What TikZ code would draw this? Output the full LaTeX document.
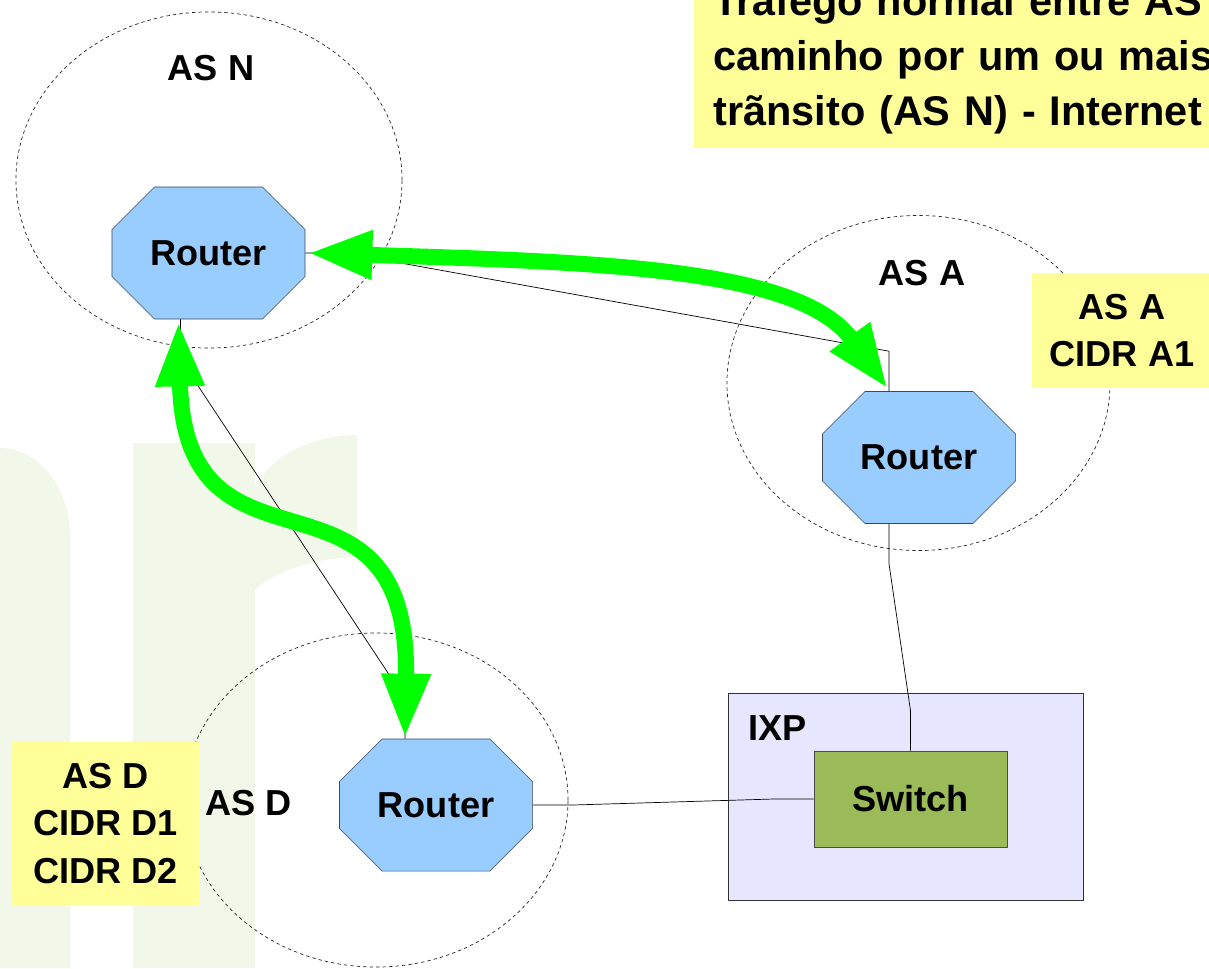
\documentclass[tikz,border=0pt]{standalone}
\usepackage{fontspec}
\setmainfont{Liberation Sans}
\usepackage{tikz}
\usetikzlibrary{positioning}
\usetikzlibrary{shapes,arrows.meta,calc}
\definecolor{routerblue}{HTML}{99CCFF}
\definecolor{routerline}{HTML}{3C4A58}
\definecolor{notecolor}{HTML}{FFFF99}
\definecolor{ixpcolor}{HTML}{E6E6FF}
\definecolor{switchcolor}{HTML}{9BBB59}
\definecolor{flowgreen}{HTML}{00FF00}
\definecolor{logogreen}{HTML}{F1F7E9}
\newcommand{\labelfont}{\fontsize{25.7}{33.7}\selectfont\bfseries}
\newcommand{\titlefont}{\fontsize{29.5}{39}\selectfont\bfseries}
\tikzstyle{router} = [chamfered rectangle, chamfered rectangle xsep=0.75cm, chamfered rectangle ysep=0.75cm,
    draw=routerline, fill=routerblue, minimum width=4.825cm, minimum height=3.3cm, inner sep=0pt, font=\labelfont]
\tikzstyle{zone} = [ellipse, draw=black!85, dash pattern=on 2.4pt off 2.2pt, line width=0.5pt]
\tikzstyle{note} = [rectangle, fill=notecolor, align=center, inner sep=0pt, font=\labelfont]
\tikzstyle{aslabel} = [font=\labelfont]
\tikzstyle{link} = [draw=black, line width=0.5pt]
\tikzstyle{flow} = [draw=flowgreen, line width=0.4cm,
    {Triangle[length=1.625cm,width=1.125cm]}-{Triangle[length=1.625cm,width=1.125cm]}]

\begin{document}
\begin{tikzpicture}[x=0.025cm, y=-0.025cm]
\useasboundingbox (0,0) rectangle (1209,968);
\clip (0,0) rectangle (1209,968);

\fill [logogreen] (0,968) -- (0,448) .. controls (40,448) and (70,490) .. (70,535) -- (70,968) -- cycle;
\fill [logogreen] (133,443) rectangle (255,968);
\fill [logogreen] (255,487) .. controls (275,450) and (320,435) .. (357,435) -- (357,557)
    .. controls (320,557) and (275,570) .. (255,590) -- cycle;

\node (zoneN) [zone, minimum width=9.65cm, minimum height=8.4cm] at (209,180) {};
\node (zoneA) [zone, minimum width=9.575cm, minimum height=8.375cm] at (918.5,383) {};
\node (zoneD) [zone, minimum width=9.6cm, minimum height=8.35cm] at (376,800) {};

\node (topnote) [note, anchor=south west, align=left, text width=20cm, inner xsep=0.475cm, inner ysep=0.35cm,
    font=\titlefont] at (694,148) {Tráfego normal entre AS\\caminho por um ou mais\\trãnsito (AS N) - Internet};
\node (noteA) [note, minimum width=4.5cm, minimum height=2.875cm] at (1122,330.5) {AS A\\CIDR A1};
\node (noteD) [note, minimum width=4.675cm, minimum height=4.075cm] at (105.5,823.5) {AS D\\CIDR D1\\CIDR D2};

\node (ixp) [rectangle, draw=black!80, fill=ixpcolor, minimum width=8.875cm, minimum height=5.175cm] at (905.5,796.5) {};
\node (ixplabel) [aslabel, anchor=base west, inner sep=0pt] at (748,740) {IXP};
\node (switch) [rectangle, draw=black!70, fill=switchcolor, minimum width=4.825cm, minimum height=2.4cm, font=\labelfont] at (910.5,799) {Switch};

\node (RN) [router] at (208.5,253) {Router};
\node (RA) [router] at (919,457.5) {Router};
\node (RD) [router] at (436,805) {Router};

\node (labelN) [aslabel] at (211,68) {AS N};
\node (labelA) [aslabel] at (922,273.5) {AS A};
\node (labelD) [aslabel] at (248.5,803) {AS D};

\draw [link] (RN.east) -- ++(40,0) -- ($(RA.north)+(-30,-40)$) -- ($(RA.north)+(-30,0)$);
\draw [link] ($(RN.south)+(-28,0)$) -- ++(0,40) -- ($(RD.north)+(-31,-40)$) -- ($(RD.north)+(-31,0)$);
\draw [link] ($(RA.south)+(-30,0)$) -- ++(0,40) -- ($(switch.north)+(0,-40)$) -- (switch.north);
\draw [link] (RD.east) -- ++(40,0) -- ($(switch.west)+(-40,0)$) -- (switch.west);

\draw [flow] ($(RN.east)+(2,0)$) .. controls (600,262) and (800,268) .. ($(RA.north)+(-31,-2)$);
\draw [flow] ($(RN.south)+(-30,2)$) .. controls (185,600) and (410,440) .. ($(RD.north)+(-31,0)$);
\end{tikzpicture}
\end{document}
